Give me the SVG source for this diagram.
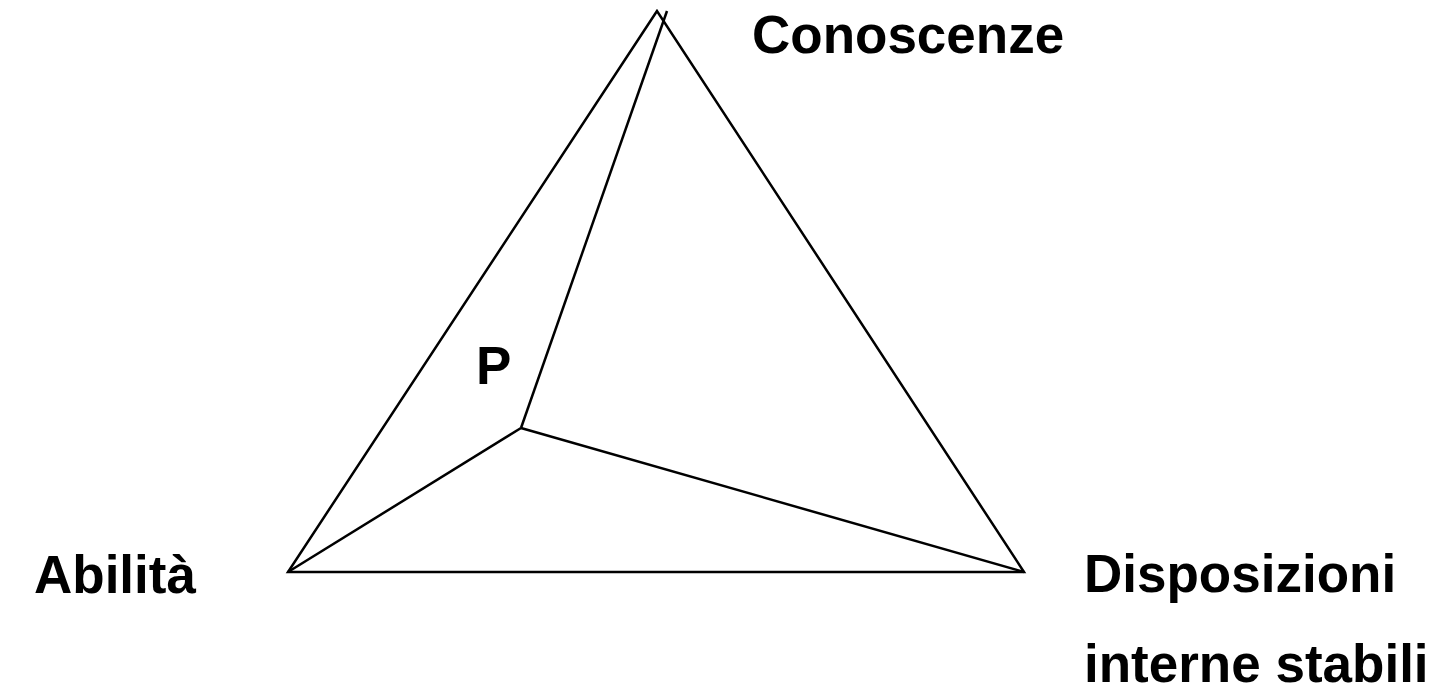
<svg xmlns="http://www.w3.org/2000/svg" width="1437" height="693" viewBox="0 0 1437 693">
<style>
.edge{fill:none;stroke:#000;stroke-width:2.5;stroke-linejoin:miter}
.lbl{font-family:"Liberation Sans",Arial,sans-serif;font-weight:bold;font-size:53px;fill:#000}
</style>
<rect width="1437" height="693" fill="#fff"/>
<g id="connectors">
<polygon class="edge" points="657,11 288,572 1024,572"/>
<line class="edge" x1="521" y1="428" x2="667" y2="11"/>
<line class="edge" x1="521" y1="428" x2="288" y2="572"/>
<line class="edge" x1="521" y1="428" x2="1024" y2="572"/>
</g>
<g id="node-conoscenze"><text class="lbl" x="752" y="53">Conoscenze</text></g>
<g id="node-abilita"><text class="lbl" x="34" y="593">Abilità</text></g>
<g id="node-disposizioni"><text class="lbl" x="1084" y="592">Disposizioni</text><text class="lbl" x="1084" y="682">interne stabili</text></g>
<g id="node-p"><text class="lbl" x="476" y="384">P</text></g>
</svg>
